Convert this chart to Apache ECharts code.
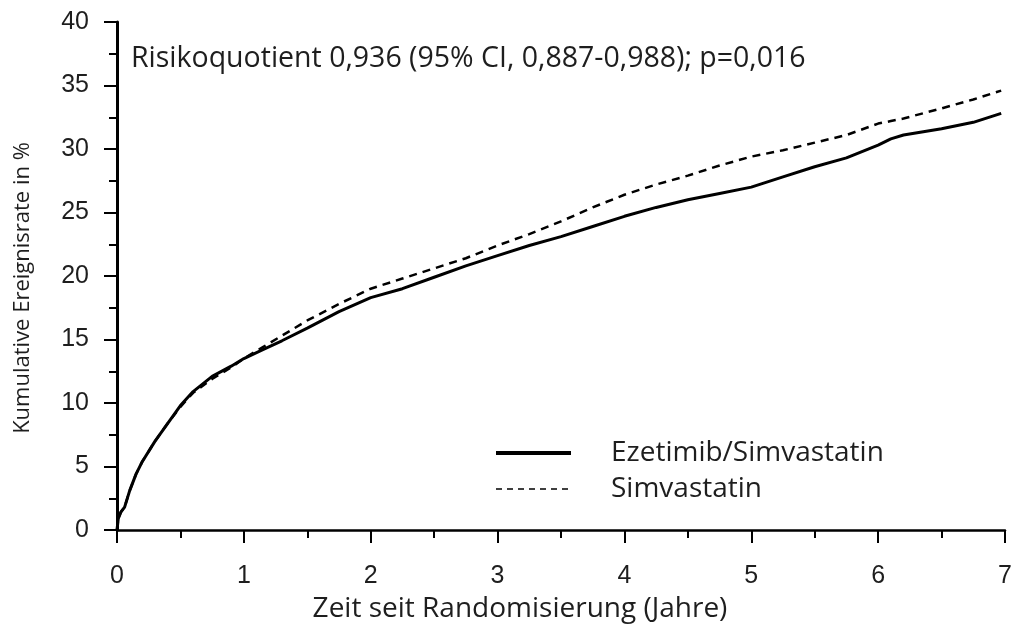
<!DOCTYPE html>
<html>
<head>
<meta charset="utf-8">
<script src="https://cdn.jsdelivr.net/npm/echarts@6/dist/echarts.min.js"></script>
<style>html,body{margin:0;padding:0;background:#fff}#c{width:1015px;height:628px}</style>
</head>
<body>
<div id="c"></div>
<script>
var years = [0, 0.01, 0.03, 0.06, 0.1, 0.15, 0.2, 0.3, 0.4, 0.5, 0.6, 0.75, 0.9, 1.0, 1.15, 1.3, 1.5, 1.75, 2.0, 2.25, 2.5, 2.75, 3.0, 3.25, 3.5, 3.75, 4.0, 4.25, 4.5, 4.75, 5.0, 5.25, 5.5, 5.75, 6.0, 6.1, 6.2, 6.5, 6.75, 6.97];
var ezetimibSimva = [0, 0.9, 1.4, 1.8, 3.1, 4.4, 5.4, 7.0, 8.4, 9.8, 10.9, 12.1, 12.9, 13.5, 14.2, 14.9, 15.9, 17.2, 18.3, 19.0, 19.9, 20.8, 21.6, 22.4, 23.1, 23.9, 24.7, 25.4, 26.0, 26.5, 27.0, 27.8, 28.6, 29.3, 30.3, 30.8, 31.1, 31.6, 32.1, 32.8];
var simva = [0, 0.9, 1.4, 1.8, 3.1, 4.4, 5.4, 7.0, 8.4, 9.7, 10.8, 11.9, 12.8, 13.5, 14.4, 15.3, 16.5, 17.8, 19.0, 19.8, 20.6, 21.4, 22.4, 23.3, 24.3, 25.4, 26.4, 27.2, 27.9, 28.7, 29.4, 29.9, 30.5, 31.1, 32.0, 32.2, 32.4, 33.2, 33.9, 34.6];
var seriesNames = ['Ezetimib/Simvastatin', 'Simvastatin'];
var annotation = 'Risikoquotient 0,936 (95% CI, 0,887-0,988); p=0,016';
var xTitle = 'Zeit seit Randomisierung (Jahre)';
var yTitle = 'Kumulative Ereignisrate in %';

function pairs(xs, ys){ return xs.map(function(x,i){ return [x, ys[i]]; }); }

var textFont = 'Open Sans';
var tickFont = 'Liberation Sans';
var ink = '#1e1e1e';

var chart = echarts.init(document.getElementById('c'), null, {renderer:'canvas'});
chart.setOption({
  animation: false,
  backgroundColor: '#fff',
  title: {
    text: annotation, left: 126, top: 39,
    textStyle: {fontFamily: textFont, fontSize: 28.5, fontWeight: 'normal', color: ink}
  },
  legend: {
    orient: 'vertical', left: 489, top: 434, itemGap: 8,
    itemWidth: 75, itemHeight: 26,
    textStyle: {fontFamily: textFont, fontSize: 28, color: ink, padding: [0,0,0,35]},
    itemStyle: {opacity: 0},
    data: [
      {name: seriesNames[0], lineStyle: {width: 4, type: 'solid', color: '#000'}},
      {name: seriesNames[1], lineStyle: {width: 1.5, type: [6,5], color: '#000'}}
    ]
  },
  grid: {left: 117, right: 10, top: 22, bottom: 98, containLabel: false, outerBoundsMode: 'none'},
  xAxis: {
    type: 'value', min: 0, max: 7, interval: 1,
    name: xTitle, nameLocation: 'middle', nameGap: 65,
    nameTextStyle: {fontFamily: textFont, fontSize: 28, color: ink, padding: [0, 82, 0, 0]},
    axisLine: {onZero: false, lineStyle: {color: '#000', width: 2.5}},
    axisTick: {length: 13, lineStyle: {color: '#000', width: 2}},
    minorTick: {show: true, splitNumber: 2, length: 8, lineStyle: {color: '#000', width: 2}},
    splitLine: {show: false},
    axisLabel: {margin: 34, fontFamily: tickFont, fontSize: 25, color: ink}
  },
  yAxis: {
    type: 'value', min: 0, max: 40, interval: 5,
    name: yTitle, nameLocation: 'middle', nameGap: 83, nameRotate: 90,
    nameTextStyle: {fontFamily: textFont, fontSize: 22, color: ink, padding: [0, 24, 0, 0]},
    axisLine: {show: true, lineStyle: {color: '#000', width: 3}},
    axisTick: {show: true, length: 13, lineStyle: {color: '#000', width: 2}},
    minorTick: {show: true, splitNumber: 2, length: 8, lineStyle: {color: '#000', width: 2}},
    splitLine: {show: false},
    axisLabel: {margin: 28, fontFamily: tickFont, fontSize: 25, color: ink}
  },
  series: [
    {name: seriesNames[0], type: 'line', data: pairs(years, ezetimibSimva), symbol: 'none', z: 3,
     lineStyle: {color: '#000', width: 3}},
    {name: seriesNames[1], type: 'line', data: pairs(years, simva), symbol: 'none', z: 2,
     lineStyle: {color: '#000', width: 2.5, type: [8,6]}}
  ]
});
</script>
</body>
</html>
